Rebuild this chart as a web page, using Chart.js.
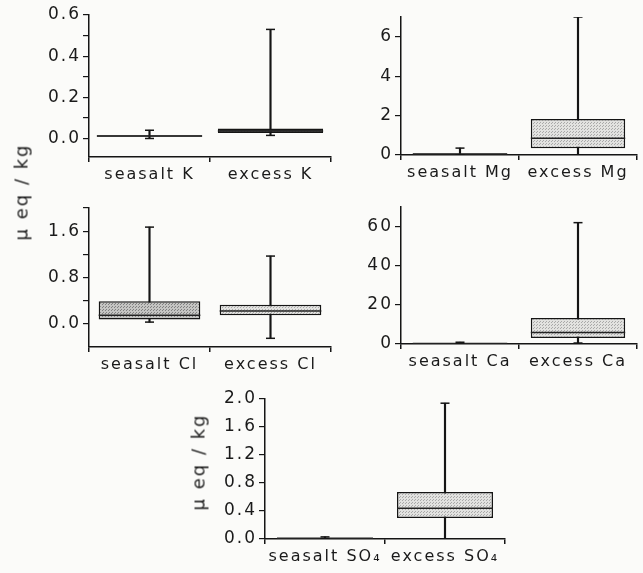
<!DOCTYPE html>
<html>
<head>
<meta charset="utf-8">
<script src="https://cdn.jsdelivr.net/npm/chart.js@4"></script>
<style>
  body { margin: 0; background: #fbfbf9; }
  #wrap { position: relative; width: 643px; height: 573px; overflow: hidden; background: #fbfbf9; }
  canvas { position: absolute; }
  .ylab {
    position: absolute;
    transform: translate(-50%, -50%) rotate(-90deg);
    white-space: nowrap;
    font: 18px "DejaVu Sans", sans-serif;
    letter-spacing: 2px;
    color: #1a1a1a;
  }
</style>
</head>
<body>
<div id="wrap">
  <canvas id="pK"></canvas>
  <canvas id="pMg"></canvas>
  <canvas id="pCl"></canvas>
  <canvas id="pCa"></canvas>
  <canvas id="pSO4"></canvas>
  <div class="ylab" style="left:21px; top:192px">μ eq / kg</div>
  <div class="ylab" style="left:198px; top:462px">μ eq / kg</div>
</div>
<script>
"use strict";

// --- data (box = quartiles, whiskers = min/max) ---
const kLabels = ['seasalt K', 'excess K'];
const kLow = [0.0, 0.015];
const kQ1 = [0.008, 0.027];
const kMedian = [0.012, 0.036];
const kQ3 = [0.016, 0.048];
const kHigh = [0.04, 0.53];
const kTicks = [0, 0.1, 0.2, 0.3, 0.4, 0.5, 0.6];
const kTickLabels = ['0.0', '', '0.2', '', '0.4', '', '0.6'];

const mgLabels = ['seasalt Mg', 'excess Mg'];
const mgLow = [0.0, 0.0];
const mgQ1 = [0.02, 0.34];
const mgMedian = [0.05, 0.85];
const mgQ3 = [0.08, 1.83];
const mgHigh = [0.35, 7.0];
const mgTicks = [0, 1, 2, 3, 4, 5, 6, 7];
const mgTickLabels = ['0', '', '2', '', '4', '', '6', ''];

const clLabels = ['seasalt Cl', 'excess Cl'];
const clLow = [0.03, -0.25];
const clQ1 = [0.075, 0.15];
const clMedian = [0.15, 0.22];
const clQ3 = [0.39, 0.33];
const clHigh = [1.67, 1.17];
const clTicks = [0, 0.4, 0.8, 1.2, 1.6, 2.0];
const clTickLabels = ['0.0', '', '0.8', '', '1.6', ''];

const caLabels = ['seasalt Ca', 'excess Ca'];
const caLow = [0.0, 0.5];
const caQ1 = [0.1, 3.1];
const caMedian = [0.2, 5.9];
const caQ3 = [0.3, 13.3];
const caHigh = [0.9, 62];
const caTicks = [0, 10, 20, 30, 40, 50, 60, 70];
const caTickLabels = ['0', '', '20', '', '40', '', '60', ''];

const so4Labels = ['seasalt SO₄', 'excess SO₄'];
const so4Low = [0.0, 0.0];
const so4Q1 = [0.005, 0.30];
const so4Median = [0.01, 0.44];
const so4Q3 = [0.015, 0.67];
const so4High = [0.03, 1.94];
const so4Ticks = [0, 0.2, 0.4, 0.6, 0.8, 1.0, 1.2, 1.4, 1.6, 1.8, 2.0];
const so4TickLabels = ['0.0', '', '0.4', '', '0.8', '', '1.2', '', '1.6', '', '2.0'];

const INK = '#151515';
const FONT = '"DejaVu Sans", sans-serif';

// stippled fill like the printed boxes
function stipple(base, dot) {
    const c = document.createElement('canvas');
    c.width = 3; c.height = 3;
    const g = c.getContext('2d');
    g.fillStyle = base; g.fillRect(0, 0, 3, 3);
    g.fillStyle = dot; g.fillRect(0, 0, 1, 1); g.fillRect(1, 2, 1, 1);
    return g.createPattern(c, 'repeat');
}
const light = stipple('#e2e2e0', '#a9a9a9');
const medium = stipple('#c4c4c2', '#808080');
const dark = stipple('#3a3a3a', '#111111');

// wider letter spacing of the original lettering
const spacing = {
    id: 'spacing',
    beforeDraw(chart) { chart.ctx.letterSpacing = '2px'; }
};

function makePanel(p) {
    const canvas = document.getElementById(p.id);
    canvas.width = p.w; canvas.height = p.h;
    canvas.style.left = p.left + 'px';
    canvas.style.top = p.top + 'px';

    const halfBox = ctx => ctx.chart.scales.x.width / p.labels.length * p.boxPct / 2;
    const capStyle = { type: 'line', showLine: false, pointStyle: 'line', pointRadius: 4.5,
        borderColor: INK, borderWidth: 1.5, order: 0 };

    new Chart(canvas, {
        type: 'bar',
        data: {
            labels: p.labels,
            datasets: [
                // whiskers
                { data: p.low.map((v, i) => [v, p.high[i]]), backgroundColor: INK,
                  barThickness: 1.5, grouped: false, order: 3 },
                // boxes
                { data: p.q1.map((v, i) => [v, p.q3[i]]), backgroundColor: p.fills,
                  borderColor: INK, borderWidth: 1.5, borderSkipped: false,
                  barPercentage: p.boxPct, categoryPercentage: 1, grouped: false, order: 2 },
                // medians
                { type: 'line', data: p.median, showLine: false, pointStyle: 'line',
                  pointRadius: halfBox, borderColor: '#222', borderWidth: 1.5, order: 1 },
                // whisker caps
                Object.assign({ data: p.high }, capStyle),
                Object.assign({ data: p.low }, capStyle)
            ]
        },
        options: {
            responsive: false,
            animation: false,
            events: [],
            layout: { padding: { top: p.padTop, right: p.padRight, left: 0, bottom: 0 } },
            plugins: { legend: { display: false }, tooltip: { enabled: false } },
            scales: {
                x: {
                    type: 'category',
                    offset: true,
                    grid: { offset: true, drawOnChartArea: false, color: INK, tickLength: 5, lineWidth: 1.5 },
                    border: { color: INK, width: 1.5 },
                    ticks: { color: '#1a1a1a', font: { family: FONT, size: 16 }, padding: 3,
                             maxRotation: 0, autoSkip: false },
                    afterFit: s => { s.height = p.xHeight; }
                },
                y: {
                    type: 'linear',
                    min: p.min,
                    max: p.max,
                    afterBuildTicks: s => { s.ticks = p.ticks.map(v => ({ value: v })); },
                    grid: { drawOnChartArea: false, color: INK, tickLength: 6, lineWidth: 1.2 },
                    border: { color: INK, width: 1.5 },
                    ticks: { color: '#1a1a1a', font: { family: FONT, size: 17 }, padding: 2,
                             callback: (v, i) => p.tickLabels[i] },
                    afterFit: s => { s.width = p.yWidth; }
                }
            }
        },
        plugins: [spacing]
    });
}

makePanel({ id: 'pK', left: 0, top: 0, w: 340, h: 190, yWidth: 89, padTop: 15, padRight: 9, xHeight: 33,
    labels: kLabels, low: kLow, q1: kQ1, median: kMedian, q3: kQ3, high: kHigh,
    min: -0.09, max: 0.6, ticks: kTicks, tickLabels: kTickLabels, boxPct: 0.87, fills: [dark, dark] });

makePanel({ id: 'pMg', left: 320, top: 0, w: 323, h: 190, yWidth: 81, padTop: 17, padRight: 1, xHeight: 35,
    labels: mgLabels, low: mgLow, q1: mgQ1, median: mgMedian, q3: mgQ3, high: mgHigh,
    min: 0, max: 7, ticks: mgTicks, tickLabels: mgTickLabels, boxPct: 0.8, fills: [dark, light] });

makePanel({ id: 'pCl', left: 0, top: 190, w: 340, h: 190, yWidth: 89, padTop: 18, padRight: 9, xHeight: 33,
    labels: clLabels, low: clLow, q1: clQ1, median: clMedian, q3: clQ3, high: clHigh,
    min: -0.4, max: 2.0, ticks: clTicks, tickLabels: clTickLabels, boxPct: 0.84, fills: [medium, light] });

makePanel({ id: 'pCa', left: 320, top: 190, w: 323, h: 190, yWidth: 81, padTop: 17, padRight: 1, xHeight: 36,
    labels: caLabels, low: caLow, q1: caQ1, median: caMedian, q3: caQ3, high: caHigh,
    min: 0, max: 70, ticks: caTicks, tickLabels: caTickLabels, boxPct: 0.8, fills: [dark, light] });

makePanel({ id: 'pSO4', left: 150, top: 380, w: 380, h: 193, yWidth: 115, padTop: 19, padRight: 25, xHeight: 34,
    labels: so4Labels, low: so4Low, q1: so4Q1, median: so4Median, q3: so4Q3, high: so4High,
    min: 0, max: 2.0, ticks: so4Ticks, tickLabels: so4TickLabels, boxPct: 0.8, fills: [dark, light] });
</script>
</body>
</html>
